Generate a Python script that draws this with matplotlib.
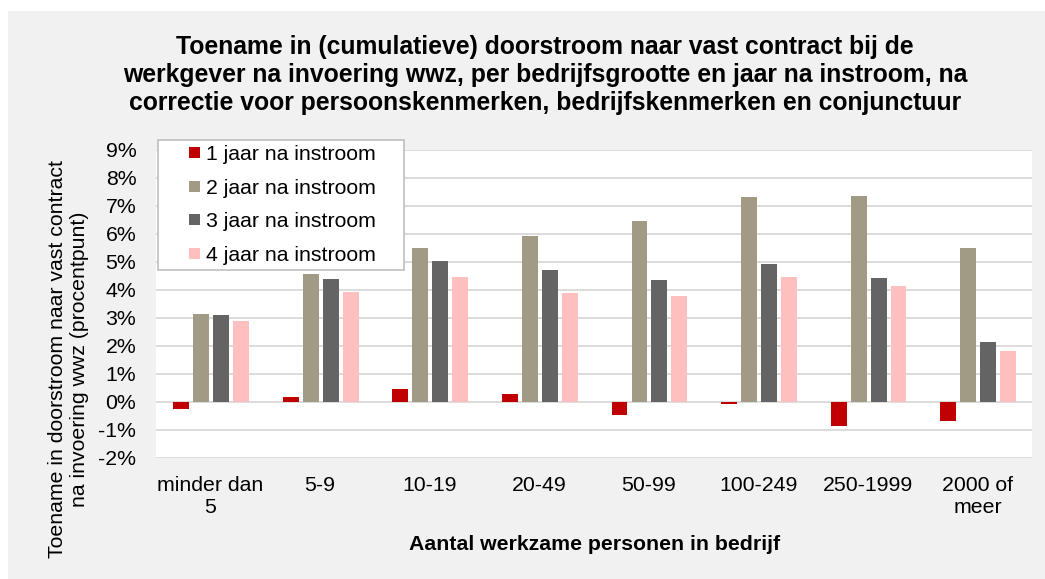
import numpy as np
import matplotlib
matplotlib.use("Agg")
import matplotlib.pyplot as plt
import matplotlib.ticker as ticker
from matplotlib.patches import Rectangle
from matplotlib.container import BarContainer
from matplotlib.legend_handler import HandlerPatch, update_from_first_child

plt.rcParams["font.family"] = ["Liberation Sans", "DejaVu Sans"]

categories = ["minder dan\n5", "5-9", "10-19", "20-49", "50-99", "100-249", "250-1999", "2000 of\nmeer"]
series_names = ["1 jaar na instroom", "2 jaar na instroom", "3 jaar na instroom", "4 jaar na instroom"]
jaar1 = [-0.25, 0.17, 0.45, 0.30, -0.45, -0.07, -0.86, -0.68]
jaar2 = [3.15, 4.57, 5.51, 5.93, 6.45, 7.33, 7.36, 5.50]
jaar3 = [3.12, 4.39, 5.02, 4.71, 4.37, 4.92, 4.44, 2.15]
jaar4 = [2.88, 3.94, 4.46, 3.88, 3.79, 4.45, 4.15, 1.82]
colors = ["#C00000", "#A19A85", "#646464", "#FFBFBF"]

title = ("Toename in (cumulatieve) doorstroom naar vast contract bij de\n"
         "werkgever na invoering wwz, per bedrijfsgrootte en jaar na instroom, na\n"
         "correctie voor persoonskenmerken, bedrijfskenmerken en conjunctuur")

FS = 15.3


def square_handle(legend, orig_handle, xdescent, ydescent, width, height, fontsize):
    # small square at the right end of the handle area, like Excel
    size = 11 * 72 / 100
    return Rectangle((width - size - xdescent, (height - size) / 2 - ydescent), size, size)


fig = plt.figure(figsize=(10.45, 5.79), dpi=100, facecolor="white")
# grey chart area with a thin white margin left and top
fig.patches.append(Rectangle((8 / 1045, -0.01), 1, 1.01 - 11 / 579, transform=fig.transFigure,
                             facecolor="#F1F1F1", edgecolor="none", zorder=-10))

ax = fig.add_axes([0.149, 0.209, 0.839, 0.532])
ax.set_facecolor("white")

x = np.arange(len(categories))
step = 0.182
width = 0.145
for i, (vals, name) in enumerate(zip([jaar1, jaar2, jaar3, jaar4], series_names)):
    ax.bar(x + (i - 1.5) * step + 0.005, vals, width, color=colors[i], label=name + "    ", zorder=3)

ax.set_xlim(-0.5, len(categories) - 0.5)
ax.set_ylim(-2, 9)
ax.yaxis.set_major_locator(ticker.MultipleLocator(1))
ax.yaxis.set_major_formatter(ticker.FuncFormatter(lambda v, p: f"{v:.0f}%"))
ax.grid(axis="y", color="#D9D9D9", linewidth=1.3, zorder=0)
for s in ax.spines.values():
    s.set_visible(False)
ax.tick_params(axis="both", length=0, labelsize=FS, colors="black")
ax.tick_params(axis="x", pad=13)
ax.tick_params(axis="y", pad=14)
ax.set_xticks(x)
ax.set_xticklabels(categories, linespacing=1.2)

ax.set_ylabel("Toename in doorstroom naar vast contract\nna invoering wwz (procentpunt)", fontsize=FS,
              linespacing=1.2)
ax.yaxis.set_label_coords(-0.076, 0.321)
ax.set_xlabel("Aantal werkzame personen in bedrijf", fontsize=FS, fontweight="bold")
ax.xaxis.set_label_coords(0.5, -0.251)

fig.text(0.5215, 0.8705, title, ha="center", va="center", fontsize=17.8, fontweight="bold",
         linespacing=1.23)

leg = ax.legend(loc="upper left", bbox_to_anchor=(0.0023, 1.032), fontsize=FS, frameon=True,
                fancybox=False, edgecolor="#BFBFBF", framealpha=1, handlelength=1.73,
                handleheight=0.7, handletextpad=0.28, labelspacing=0.68, borderpad=0.25,
                borderaxespad=0,
                handler_map={BarContainer: HandlerPatch(patch_func=square_handle,
                                                        update_func=update_from_first_child)})
leg.get_frame().set_linewidth(1.2)
leg.set_zorder(5)

fig.savefig("out.png", dpi=100, facecolor=fig.get_facecolor())
